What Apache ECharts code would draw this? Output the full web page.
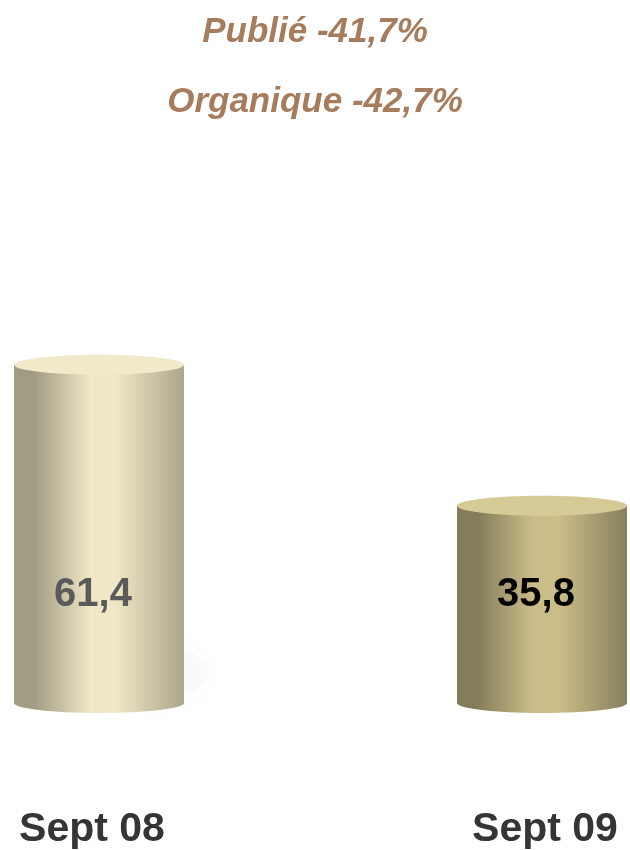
<!DOCTYPE html>
<html>
<head>
<meta charset="utf-8">
<script src="https://cdn.jsdelivr.net/npm/echarts@6/dist/echarts.min.js"></script>
<style>html,body{margin:0;padding:0;background:#fff;}#c{width:630px;height:850px;}</style>
</head>
<body>
<div id="c"></div>
<script>
var categories = ['Sept 08', 'Sept 09'];
var values = [61.4, 35.8];
var valueLabels = ['61,4', '35,8'];
var titleLines = ['Publié -41,7%', 'Organique -42,7%'];

var palettes = [
  {edgeL:'#a29c84', mid:'#efe7c5', edgeR:'#aca58b', top:'#f1e9c9', label:'#5a5a5a'},
  {edgeL:'#837d5a', mid:'#cbbd88', edgeR:'#877f5e', top:'#d6ca96', label:'#000000'}
];

var seriesData = categories.map(function(c, i){ return [i, values[i]]; });

var chart = echarts.init(document.getElementById('c'));
chart.setOption({
  backgroundColor: '#ffffff',
  animation: false,
  title: [
    {text: titleLines[0], left: 'center', top: 10, textStyle:{fontFamily:'Liberation Sans, Arial', fontStyle:'italic', fontWeight:'bold', fontSize:35, color:'#a67c5d'}},
    {text: titleLines[1], left: 'center', top: 80, textStyle:{fontFamily:'Liberation Sans, Arial', fontStyle:'italic', fontWeight:'bold', fontSize:35, color:'#a67c5d'}}
  ],
  grid: {left: 99, right: 88, top: 152, bottom: 145, containLabel: false},
  xAxis: {
    type: 'category', data: categories, boundaryGap: false,
    axisLine:{show:false}, axisTick:{show:false}, splitLine:{show:false},
    axisLabel:{
      margin: 106,
      formatter: function(v, i){ return (i === 0 ? '{a|' : '{b|') + v + '}'; },
      rich: {
        a: {fontFamily:'Liberation Sans, Arial', fontWeight:'bold', fontSize:41, color:'#353535', padding:[0,14,0,0]},
        b: {fontFamily:'Liberation Sans, Arial', fontWeight:'bold', fontSize:41, color:'#353535', padding:[0,0,0,6]}
      }
    }
  },
  yAxis: {type:'value', min:0, max:100, show:false},
  series: [{
    type: 'custom',
    data: seriesData,
    encode: {x: 0, y: 1},
    clip: false,
    renderItem: function(params, api) {
      var idx = params.dataIndex;
      var p = palettes[idx];
      var topPt = api.coord([api.value(0), api.value(1)]);
      var basePt = api.coord([api.value(0), 0]);
      var cx = topPt[0];
      var rx = 85, ry = 10;
      var grad = new echarts.graphic.LinearGradient(0,0,1,0,[
        {offset:0, color:p.edgeL},
        {offset:0.12, color:p.edgeL},
        {offset:0.45, color:p.mid},
        {offset:0.6, color:p.mid},
        {offset:1, color:p.edgeR}
      ]);
      var children = [];
      if (idx === 0) {
        children.push({type:'ellipse', shape:{cx:cx+55, cy:basePt[1]-30, rx:55, ry:28},
          style:{fill:'rgba(180,180,190,0.06)', shadowBlur:40, shadowColor:'rgba(140,140,150,0.35)'}});
      }
      children.push({type:'ellipse', shape:{cx:cx, cy:basePt[1], rx:rx, ry:ry}, style:{fill:grad}});
      children.push({type:'rect', shape:{x:cx-rx, y:topPt[1], width:rx*2, height:basePt[1]-topPt[1]}, style:{fill:grad}});
      children.push({type:'ellipse', shape:{cx:cx, cy:topPt[1], rx:rx, ry:ry}, style:{fill:p.top}});
      children.push({type:'text', style:{text:valueLabels[idx], x:cx-6, y:basePt[1]-108, align:'center', verticalAlign:'middle',
        fontFamily:'Liberation Sans, Arial', fontWeight:'bold', fontSize:40, fill:p.label}});
      return {type:'group', children:children};
    }
  }]
});
</script>
</body>
</html>
